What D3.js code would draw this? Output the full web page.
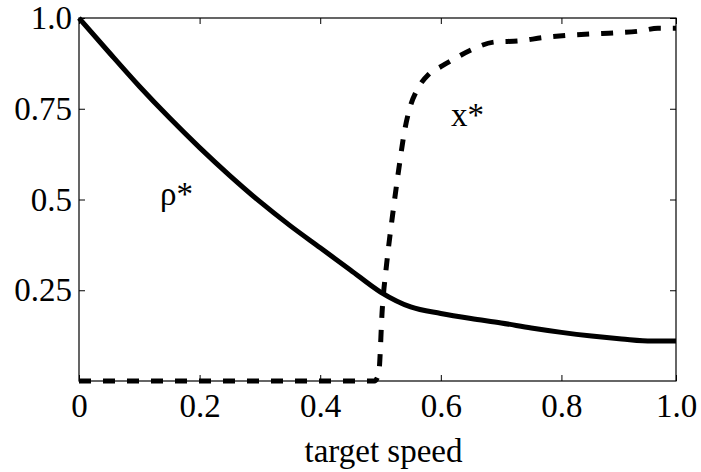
<!DOCTYPE html>
<html>
<head>
<meta charset="utf-8">
<script src="https://cdn.jsdelivr.net/npm/d3@7"></script>
<style>
  body { margin: 0; background: #fff; }
  svg { display: block; }
  text { font-family: "Liberation Serif", "Times New Roman", serif; fill: #000; }
</style>
</head>
<body>
<svg id="chart" width="701" height="472"></svg>
<script>
// Optimal density rho* versus target speed (solid curve)
const speed   = [0, 0.05, 0.1, 0.15, 0.2, 0.25, 0.3, 0.35, 0.4, 0.45, 0.5,
                 0.55, 0.6, 0.65, 0.7, 0.75, 0.8, 0.85, 0.9, 0.95, 0.99];
const rhoStar = [1.0, 0.905, 0.812, 0.725, 0.643, 0.566, 0.494, 0.428, 0.367, 0.306, 0.245,
                 0.204, 0.186, 0.172, 0.160, 0.146, 0.134, 0.124, 0.116, 0.110, 0.110];

// Optimal fraction x* versus target speed (dashed curve)
const xSpeed = [0, 0.1, 0.2, 0.3, 0.4, 0.49, 0.497, 0.503, 0.51, 0.52, 0.53, 0.54, 0.55,
                0.56, 0.58, 0.6, 0.62, 0.65, 0.69, 0.73, 0.77, 0.81, 0.85, 0.89, 0.93, 0.96, 0.99];
const xStar  = [0, 0, 0, 0, 0, 0, 0.02, 0.2, 0.32, 0.457, 0.58, 0.69, 0.76,
                0.80, 0.845, 0.866, 0.885, 0.912, 0.934, 0.937, 0.946, 0.952, 0.956, 0.959, 0.964, 0.972, 0.972];

// Axis ticks and their printed labels
const xTickValues = [0, 0.2, 0.4, 0.6, 0.8, 0.99];
const xTickLabels = ["0", "0.2", "0.4", "0.6", "0.8", "1.0"];
const yTickValues = [0.25, 0.5, 0.75, 1.0];
const yTickLabels = ["0.25", "0.5", "0.75", "1.0"];

const svg = d3.select("#chart");
const margin = { left: 79, top: 18, right: 25, bottom: 91 };
const W = 701, H = 472;
const innerW = W - margin.left - margin.right;
const innerH = H - margin.top - margin.bottom;

const x = d3.scaleLinear().domain([0, 0.99]).range([0, innerW]);
const y = d3.scaleLinear().domain([0, 1]).range([innerH, 0]);

const g = svg.append("g").attr("transform", `translate(${margin.left},${margin.top})`);

const fontSize = 33;
const tickLen = 6;

// Bottom axis with labels
const xAxis = d3.axisBottom(x)
  .tickValues(xTickValues)
  .tickFormat((d, i) => xTickLabels[i])
  .tickSizeInner(-tickLen).tickSizeOuter(0).tickPadding(13);
const gx = g.append("g").attr("transform", `translate(0,${innerH})`).call(xAxis);

// Left axis with labels
const yAxis = d3.axisLeft(y)
  .tickValues(yTickValues)
  .tickFormat((d, i) => yTickLabels[i])
  .tickSizeInner(-tickLen).tickSizeOuter(0).tickPadding(7);
const gy = g.append("g").call(yAxis);

// Mirrored ticks on top and right, no labels
const gt = g.append("g").call(
  d3.axisTop(x).tickValues(xTickValues).tickFormat("").tickSizeInner(-tickLen).tickSizeOuter(0));
const gr = g.append("g").attr("transform", `translate(${innerW},0)`).call(
  d3.axisRight(y).tickValues(yTickValues).tickFormat("").tickSizeInner(-tickLen).tickSizeOuter(0));

[gx, gy, gt, gr].forEach(a => {
  a.select(".domain").remove();
  a.selectAll(".tick line").attr("stroke", "#000").attr("stroke-width", 1);
  a.selectAll("text").style("font-size", fontSize + "px")
    .style("font-family", '"Liberation Serif", "Times New Roman", serif').attr("fill", "#000");
});

// Frame around the plot area
g.append("rect")
  .attr("x", 0).attr("y", 0).attr("width", innerW).attr("height", innerH)
  .attr("fill", "none").attr("stroke", "#000").attr("stroke-width", 1.2);

// rho* curve
const rhoLine = d3.line()
  .x((d, i) => x(speed[i]))
  .y(d => y(d))
  .curve(d3.curveMonotoneX);
g.append("path")
  .datum(rhoStar)
  .attr("d", rhoLine)
  .attr("fill", "none").attr("stroke", "#000")
  .attr("stroke-width", 5).attr("stroke-linejoin", "round");

// x* curve
const xLine = d3.line()
  .x((d, i) => x(xSpeed[i]))
  .y(d => y(d))
  .curve(d3.curveMonotoneX);
g.append("path")
  .datum(xStar)
  .attr("d", xLine)
  .attr("fill", "none").attr("stroke", "#000")
  .attr("stroke-width", 5).attr("stroke-dasharray", "12,12")
  .attr("stroke-linecap", "butt");

// Curve annotations
g.append("text")
  .attr("x", 160 - margin.left).attr("y", 205 - margin.top)
  .style("font-size", fontSize + "px")
  .text("ρ*");
g.append("text")
  .attr("x", 451 - margin.left).attr("y", 126 - margin.top)
  .style("font-size", fontSize + "px")
  .text("x*");

// X axis title
g.append("text")
  .attr("x", innerW / 2 + 6).attr("y", 462 - margin.top)
  .attr("text-anchor", "middle")
  .style("font-size", fontSize + "px")
  .text("target speed");
</script>
</body>
</html>
